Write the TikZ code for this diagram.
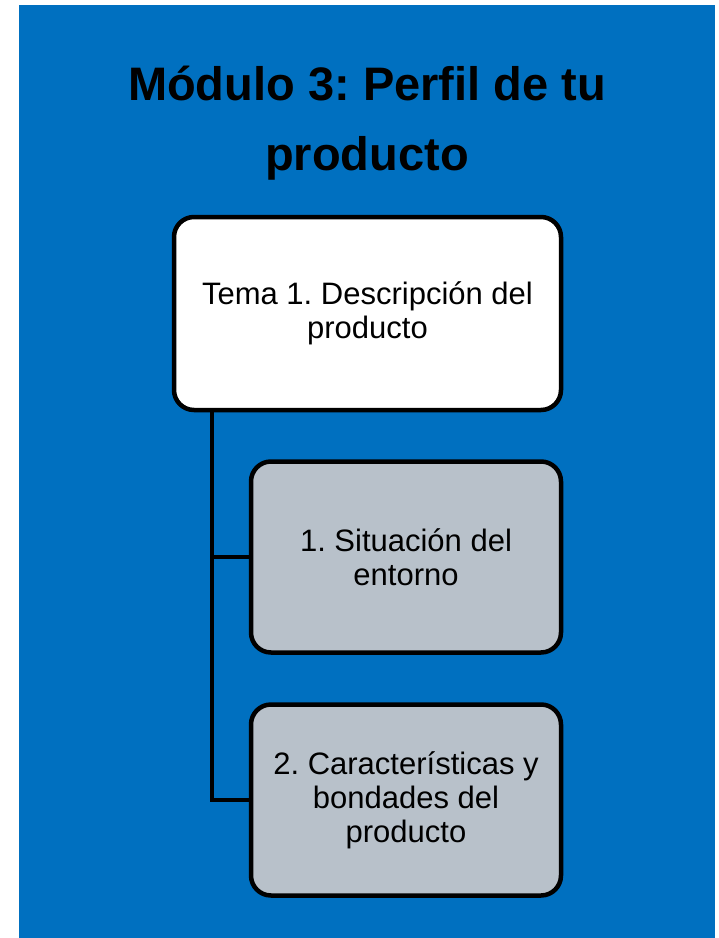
\documentclass[tikz,border=0pt]{standalone}
\usepackage{fontspec}
\setmainfont{Liberation Sans}
\usetikzlibrary{calc}
\definecolor{fondo}{HTML}{0070C0}
\definecolor{gris}{HTML}{B8C1CA}
\frenchspacing
\begin{document}
\begin{tikzpicture}
[   x=1pt,y=-1pt,
    caja/.style={rounded corners=20pt,line width=4.5pt,draw=black,align=center,inner sep=0pt,font=\fontsize{31}{34}\selectfont},
    tema/.style={caja,fill=white,minimum width=387pt,minimum height=193pt},
    sub/.style={caja,fill=gris,minimum width=310pt,minimum height=191pt}
]
    \useasboundingbox (0,0) rectangle (719,938);
    \fill[fondo] (19,5) rectangle (715,938);
    \node[font=\bfseries\fontsize{47}{70}\selectfont,align=center] (T) at (367,123) {Módulo 3: Perfil de tu\\producto};
    \node[tema] (A) at (367.5,313.5) {Tema 1. Descripción del\\producto};
    \node[sub] (B) at (406,557) {1. Situación del\\entorno};
    \node[sub] (C) at (406,800) {2. Características y\\bondades del\\producto};
    \draw[line width=4.5pt] ($(A.south west)+(40,0)$) coordinate (eje) |- (B.west);
    \draw[line width=4.5pt] (eje) |- (C.west);
\end{tikzpicture}
\end{document}
